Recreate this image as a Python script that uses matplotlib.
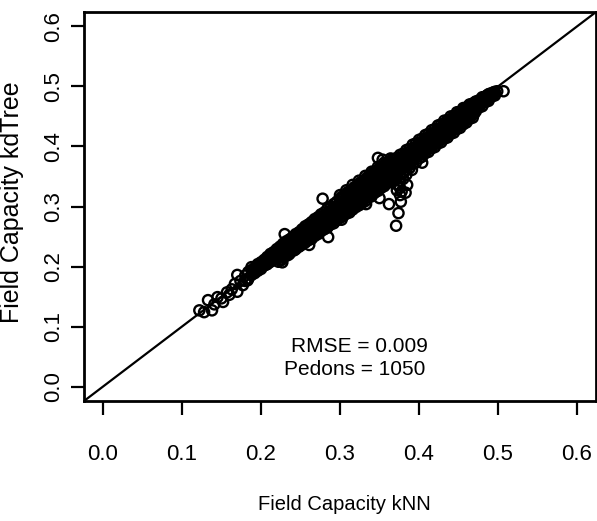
import matplotlib
matplotlib.use("Agg")
import matplotlib.pyplot as plt

# Field capacity, kNN (x) vs kdTree (y)
# sparse low end
low_knn = [0.122, 0.128, 0.133, 0.138, 0.141, 0.145, 0.150, 0.152, 0.157,
           0.160, 0.163, 0.167, 0.170, 0.170, 0.174, 0.177, 0.183, 0.189]
low_kdtree = [0.127, 0.124, 0.144, 0.127, 0.137, 0.149, 0.147, 0.141, 0.157,
              0.153, 0.162, 0.171, 0.186, 0.158, 0.176, 0.169, 0.177, 0.191]

# dense band: one kNN value per column, kdTree values found in that column
band_knn = [0.180, 0.184, 0.188, 0.192, 0.196, 0.200, 0.204, 0.208, 0.212, 0.216,
            0.220, 0.224, 0.228, 0.232, 0.236, 0.240, 0.244, 0.248, 0.252, 0.256,
            0.260, 0.264, 0.268, 0.272, 0.276, 0.280, 0.284, 0.288, 0.292, 0.296,
            0.300, 0.304, 0.308, 0.312, 0.316, 0.320, 0.324, 0.328, 0.332, 0.336,
            0.340, 0.344, 0.348, 0.352, 0.356, 0.360, 0.364, 0.368, 0.372, 0.376,
            0.380, 0.384, 0.388, 0.392, 0.396, 0.400, 0.404, 0.408, 0.412, 0.416,
            0.420, 0.424, 0.428, 0.432, 0.436, 0.440, 0.444, 0.448, 0.452, 0.456,
            0.460, 0.464, 0.468, 0.472, 0.476, 0.480, 0.484, 0.488, 0.492, 0.496]
band_kdtree = [
    [0.185, 0.176], [0.191, 0.180], [0.194, 0.186, 0.199], [0.198, 0.189],
    [0.204, 0.193, 0.199], [0.207, 0.196], [0.211, 0.202, 0.206],
    [0.216, 0.204, 0.211], [0.221, 0.208, 0.214], [0.224, 0.211, 0.219],
    [0.229, 0.213, 0.222, 0.218], [0.233, 0.218, 0.227, 0.211],
    [0.238, 0.222, 0.231, 0.216], [0.242, 0.226, 0.234, 0.219],
    [0.245, 0.228, 0.239, 0.221], [0.249, 0.234, 0.242, 0.227],
    [0.254, 0.236, 0.247, 0.229], [0.257, 0.241, 0.250, 0.233],
    [0.262, 0.244, 0.253, 0.237], [0.267, 0.247, 0.258, 0.240],
    [0.270, 0.252, 0.261, 0.244], [0.274, 0.255, 0.266, 0.246],
    [0.279, 0.258, 0.270, 0.251], [0.282, 0.263, 0.273, 0.254],
    [0.287, 0.266, 0.278, 0.259], [0.290, 0.271, 0.281, 0.262],
    [0.296, 0.273, 0.286, 0.265], [0.299, 0.278, 0.289, 0.270],
    [0.304, 0.281, 0.293, 0.272], [0.308, 0.285, 0.298, 0.277],
    [0.312, 0.289, 0.301, 0.281, 0.319], [0.316, 0.293, 0.304, 0.284],
    [0.320, 0.296, 0.310, 0.288, 0.327], [0.325, 0.299, 0.313, 0.290],
    [0.328, 0.304, 0.318, 0.295, 0.336], [0.333, 0.306, 0.321, 0.299],
    [0.336, 0.312, 0.326, 0.302, 0.343], [0.341, 0.314, 0.329, 0.306],
    [0.344, 0.319, 0.334, 0.309, 0.351], [0.349, 0.322, 0.336, 0.315],
    [0.352, 0.327, 0.342, 0.317, 0.358], [0.357, 0.330, 0.344, 0.323],
    [0.360, 0.335, 0.350, 0.326, 0.366], [0.365, 0.337, 0.353, 0.331],
    [0.367, 0.343, 0.356, 0.334, 0.373], [0.372, 0.345, 0.361, 0.339],
    [0.374, 0.351, 0.363, 0.341, 0.380], [0.379, 0.353, 0.368, 0.346],
    [0.381, 0.359, 0.370, 0.348, 0.337, 0.327],
    [0.386, 0.361, 0.375, 0.353, 0.343, 0.331, 0.319],
    [0.388, 0.367, 0.377, 0.355, 0.346], [0.394, 0.369, 0.383, 0.361],
    [0.396, 0.376, 0.386, 0.364], [0.403, 0.379, 0.391, 0.371],
    [0.405, 0.385, 0.396, 0.373], [0.411, 0.387, 0.398, 0.380],
    [0.413, 0.393, 0.404, 0.383], [0.419, 0.395, 0.406, 0.389],
    [0.421, 0.401, 0.412, 0.391], [0.427, 0.403, 0.414, 0.397],
    [0.429, 0.409, 0.420, 0.399], [0.435, 0.411, 0.422, 0.405],
    [0.437, 0.417, 0.428, 0.407], [0.443, 0.419, 0.430, 0.413],
    [0.444, 0.425, 0.435, 0.415], [0.450, 0.427, 0.437, 0.421],
    [0.451, 0.433, 0.443, 0.423], [0.457, 0.435, 0.445, 0.429],
    [0.458, 0.441, 0.450, 0.431], [0.464, 0.443, 0.452, 0.437],
    [0.465, 0.449, 0.458, 0.440], [0.470, 0.451, 0.459, 0.446],
    [0.471, 0.457, 0.465, 0.448], [0.475, 0.459, 0.466],
    [0.477, 0.465, 0.472], [0.482, 0.467, 0.474], [0.483, 0.474, 0.479],
    [0.487, 0.476, 0.481], [0.488, 0.483], [0.491, 0.485],
]

# in-between columns of the same band
band2_knn = [0.198, 0.202, 0.206, 0.210, 0.214, 0.218, 0.222, 0.226, 0.230, 0.234,
             0.238, 0.242, 0.246, 0.250, 0.254, 0.258, 0.262, 0.266, 0.270, 0.274,
             0.278, 0.282, 0.286, 0.290, 0.294, 0.298, 0.302, 0.306, 0.310, 0.314,
             0.318, 0.322, 0.326, 0.330, 0.334, 0.338, 0.342, 0.346, 0.350, 0.354,
             0.358, 0.362, 0.366, 0.370, 0.374, 0.378, 0.382, 0.386, 0.390, 0.394,
             0.398, 0.402, 0.406, 0.410, 0.414, 0.418, 0.422, 0.426, 0.430, 0.434,
             0.438, 0.442, 0.446, 0.450, 0.454, 0.458, 0.462, 0.466, 0.470, 0.474,
             0.478, 0.482, 0.486, 0.490, 0.494]
band2_kdtree = [
    [0.196, 0.204], [0.200, 0.207], [0.203, 0.212], [0.207, 0.216], [0.211, 0.219],
    [0.216, 0.223], [0.208, 0.217, 0.227], [0.212, 0.223, 0.231], [0.217, 0.225, 0.236],
    [0.219, 0.231, 0.239], [0.225, 0.233, 0.244], [0.227, 0.239, 0.247],
    [0.233, 0.241, 0.252], [0.235, 0.247, 0.255], [0.241, 0.249, 0.260],
    [0.243, 0.255, 0.262], [0.249, 0.257, 0.268], [0.251, 0.263, 0.270],
    [0.257, 0.265, 0.276], [0.259, 0.271, 0.278], [0.265, 0.273, 0.284],
    [0.267, 0.279, 0.286], [0.273, 0.281, 0.292], [0.275, 0.287, 0.294],
    [0.281, 0.289, 0.300], [0.283, 0.295, 0.302],
    [0.284, 0.296, 0.305, 0.316], [0.290, 0.298, 0.310, 0.318],
    [0.292, 0.304, 0.312, 0.324], [0.298, 0.306, 0.318, 0.326],
    [0.300, 0.312, 0.320, 0.332], [0.306, 0.314, 0.326, 0.334],
    [0.308, 0.320, 0.328, 0.340], [0.314, 0.322, 0.334, 0.342],
    [0.316, 0.328, 0.336, 0.348], [0.322, 0.330, 0.342, 0.350],
    [0.324, 0.336, 0.344, 0.356], [0.330, 0.338, 0.350, 0.358],
    [0.332, 0.344, 0.352, 0.364], [0.338, 0.346, 0.358, 0.366],
    [0.340, 0.352, 0.360, 0.372], [0.346, 0.354, 0.366, 0.374],
    [0.348, 0.360, 0.368, 0.378], [0.354, 0.362, 0.374, 0.344],
    [0.358, 0.368, 0.377, 0.335], [0.362, 0.372, 0.381, 0.325],
    [0.367, 0.376, 0.386], [0.371, 0.380, 0.390], [0.375, 0.385, 0.393],
    [0.379, 0.389, 0.398], [0.383, 0.393, 0.402], [0.387, 0.397, 0.406],
    [0.391, 0.401, 0.410], [0.395, 0.405, 0.414], [0.399, 0.409, 0.418],
    [0.403, 0.413, 0.422], [0.407, 0.417, 0.426], [0.411, 0.421, 0.430],
    [0.415, 0.425, 0.434], [0.419, 0.429, 0.438], [0.423, 0.433, 0.442],
    [0.427, 0.437, 0.446], [0.431, 0.441, 0.450], [0.435, 0.445, 0.454],
    [0.439, 0.449, 0.458], [0.443, 0.453, 0.462], [0.447, 0.457, 0.466],
    [0.451, 0.461, 0.470], [0.455, 0.465, 0.473], [0.466, 0.473],
    [0.470, 0.477], [0.474, 0.481], [0.478, 0.485], [0.482, 0.488], [0.486, 0.490],
]

# scattered points off the band
out_knn = [0.499, 0.507, 0.348, 0.354, 0.278, 0.285, 0.261, 0.302, 0.371, 0.374, 0.362,
           0.350, 0.333, 0.377, 0.383, 0.385, 0.391, 0.404, 0.384, 0.227, 0.230, 0.226]
out_kdtree = [0.492, 0.492, 0.381, 0.378, 0.313, 0.249, 0.236, 0.278, 0.268, 0.289, 0.304,
              0.314, 0.304, 0.308, 0.323, 0.336, 0.361, 0.373, 0.353, 0.207, 0.254, 0.211]

ticks = [0.0, 0.1, 0.2, 0.3, 0.4, 0.5, 0.6]
tick_labels = ["0.0", "0.1", "0.2", "0.3", "0.4", "0.5", "0.6"]
rmse = 0.009
n_pedons = 1050

# put the columns together
knn = list(low_knn) + list(out_knn)
kdtree = list(low_kdtree) + list(out_kdtree)
for cols_x, cols_y in [(band_knn, band_kdtree), (band2_knn, band2_kdtree)]:
    for x, ys in zip(cols_x, cols_y):
        for y in ys:
            knn.append(x)
            kdtree.append(y)

font = ["Liberation Sans", "DejaVu Sans"]

fig = plt.figure(figsize=(5.97, 5.21), dpi=100)
ax = fig.add_axes([84 / 597, 120 / 521, 512 / 597, 389 / 521])

ax.scatter(knn, kdtree, s=54, facecolors="none", edgecolors="black", linewidths=1.7, zorder=3)
ax.plot([-0.1, 0.7], [-0.1, 0.7], color="black", lw=1.6, zorder=2)

ax.set_xlim(-0.024, 0.624)
ax.set_ylim(-0.024, 0.624)

for s in ax.spines.values():
    s.set_linewidth(2.0)

ax.set_xticks(ticks)
ax.set_xticklabels(tick_labels, fontfamily=font, fontsize=16)
ax.set_yticks(ticks)
ax.set_yticklabels(tick_labels, fontfamily=font, fontsize=16, rotation=90, va="center")
ax.tick_params(axis="x", direction="out", length=10, width=1.6, pad=21)
ax.tick_params(axis="y", direction="out", length=9.5, width=1.6, pad=5)

ax.text(0.3245, 0.067, "RMSE = %.3f" % rmse, ha="center", va="center",
        fontfamily=font, fontsize=15)
ax.text(0.318, 0.029, "Pedons = %d" % n_pedons, ha="center", va="center",
        fontfamily=font, fontsize=15)

fig.text(344 / 597, 1 - 505 / 521, "Field Capacity kNN", ha="center", va="center",
         fontfamily=font, fontsize=14.5)
fig.text(12 / 597, 1 - 202 / 521, "Field Capacity kdTree", ha="center", va="center",
         rotation=90, fontfamily=font, fontsize=18)

plt.savefig("out.png", dpi=100)
